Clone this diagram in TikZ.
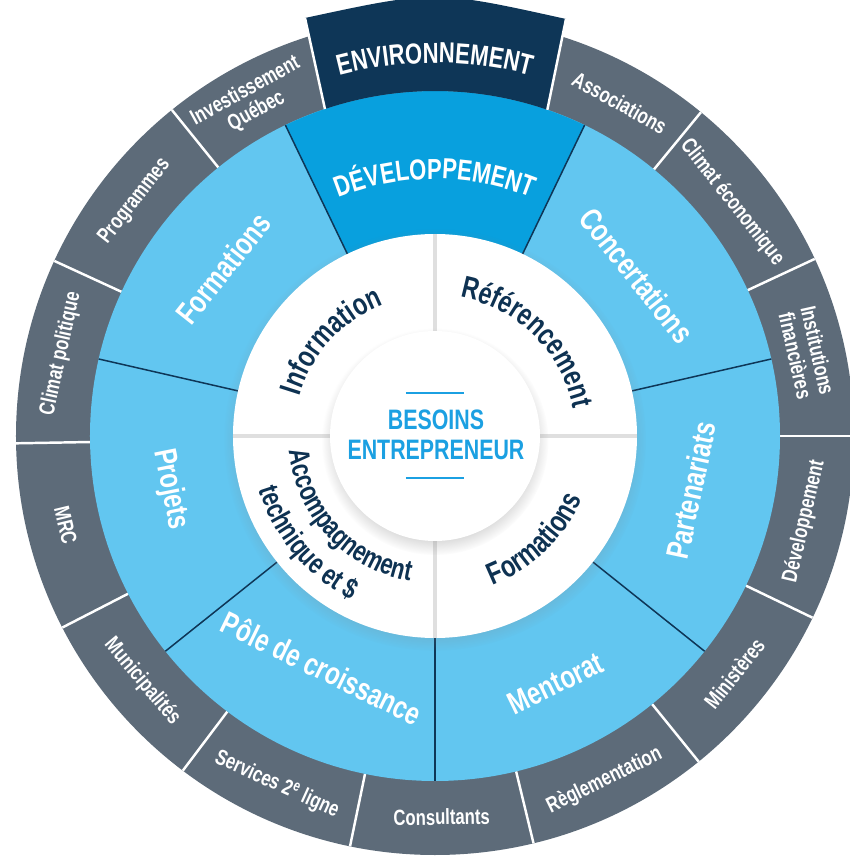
\documentclass[tikz,border=0pt]{standalone}
\usepackage{fontspec}
\setmainfont{Liberation Sans}[FakeStretch=0.76]
\usetikzlibrary{calc,decorations.text,shadows}

\definecolor{ringgray}{RGB}{93,107,121}
\definecolor{envnavy}{RGB}{14,54,87}
\definecolor{devblue}{RGB}{8,160,222}
\definecolor{ringblue}{RGB}{98,198,240}
\definecolor{textnavy}{RGB}{14,50,82}
\definecolor{coreblue}{RGB}{27,160,226}

\newcommand\tabfont{\fontsize{16.5}{18}\selectfont\bfseries\color{white}}
\newcommand\needfont{\fontsize{17.5}{19}\selectfont\bfseries\color{textnavy}}
\newcommand\needsmallfont{\fontsize{16.5}{18}\selectfont\bfseries\color{textnavy}}

\tikzset{
  graylbl/.style={text=white, font=\fontsize{12.5}{13}\selectfont\bfseries, align=center, inner sep=0pt},
  bluelbl/.style={text=white, font=\fontsize{18}{20}\selectfont\bfseries, inner sep=0pt},
  graysep/.style={white, line width=1.4pt},
  bluesep/.style={envnavy, line width=0.85pt},
  quadsep/.style={gray!25, line width=1.8pt},
  arclbl/.style={decorate, decoration={text along path, text align=center, text={#1}}},
}

\begin{document}
\begin{tikzpicture}[x=0.02cm,y=0.02cm]
  \useasboundingbox (-435,-423) rectangle (414,436);
  \coordinate (centre) at (0,0);

  % outer ring
  \fill[ringgray] (centre) circle (419);
  \foreach \a in {0,25,50.6,128.9,155.3,181,207.2,233,258.3,283.6,309,334.3}
    \draw[graysep] (\a:345) -- (\a:419);

  % middle ring
  \fill[ringblue] (centre) circle (345);
  \fill[devblue] (centre) -- (64.3:345) arc[start angle=64.3, end angle=115.7, radius=345] -- cycle;

  % environnement tab
  \coordinate (envBL) at (108.6:345);
  \coordinate (envBR) at (71:345);
  \coordinate (envTL) at (-130,418);
  \coordinate (envTR) at (131,417);
  \fill[envnavy] (envBL) -- (envTL) .. controls (0,446) .. (envTR) -- (envBR)
    arc[start angle=71, end angle=108.6, radius=345] -- cycle;
  \draw[graysep] (envBL) -- (envTL);
  \draw[graysep] (envBR) -- (envTR);

  \foreach \a in {12.9,64.3,115.7,167.1,218.6,270,321.4}
    \draw[bluesep] (\a:202) -- (\a:345);

  % inner ring
  \fill[white, circular drop shadow={shadow scale=1.045, shadow xshift=0pt, shadow yshift=-2pt, opacity=0.4}] (centre) circle (202);
  \foreach \a in {0,90,180,270}
    \draw[quadsep] (\a:105) -- (\a:202);

  % core
  \fill[white, circular drop shadow={shadow scale=1.08, shadow xshift=0pt, shadow yshift=-3pt, opacity=0.3}] (centre) circle (105);
  \node[text=coreblue, font=\fontsize{16}{17}\selectfont\bfseries, align=center, inner sep=0pt] (besoins) at (1,1) {BESOINS\\ENTREPRENEUR};
  \draw[coreblue, line width=1.4pt] (-29,43) -- (29,43);
  \draw[coreblue, line width=1.4pt] (-29,-42) -- (29,-42);

  % outer labels
  \path[arclbl={|\tabfont|ENVIRONNEMENT}] (110:373) arc[start angle=110, end angle=70, radius=373];
  \node[graylbl, rotate=-29]   (assoc)   at (61:381)     {Associations};
  \node[graylbl, rotate=-51.8] (climeco) at (38.2:378)   {Climat économique};
  \node[graylbl, rotate=-77.4] (instfin) at (12.6:381)   {Institutions\\financières};
  \node[graylbl, rotate=77]    (devgray) at (-13:379)    {Développement};
  \node[graylbl, rotate=51.6]  (minist)  at (-38.4:382)  {Ministères};
  \node[graylbl, rotate=26.2]  (regl)    at (-63.8:384)  {Règlementation};
  \node[graylbl, rotate=1]     (consult) at (-89:381)    {Consultants};
  \node[graylbl, rotate=-24.4] (servl)   at (-114.4:383) {Services 2\textsuperscript{e} ligne};
  \node[graylbl, rotate=-50]   (munic)   at (-140:382)   {Municipalités};
  \node[graylbl, rotate=-76.4] (mrc)     at (-166.4:380) {MRC};
  \node[graylbl, rotate=77.6]  (climpol) at (167.6:383)  {Climat politique};
  \node[graylbl, rotate=52]    (progr)   at (142:381)    {Programmes};
  \node[graylbl, rotate=28.8]  (invest)  at (118.8:382)  {Investissement\\Québec};

  % middle labels
  \path[arclbl={|\tabfont|DÉVELOPPEMENT}] (125:257) arc[start angle=125, end angle=55, radius=257];
  \node[bluelbl, rotate=-51.5] (concert) at (38.5:258)   {Concertations};
  \node[bluelbl, rotate=78]    (partn)   at (-12:262)    {Partenariats};
  \node[bluelbl, rotate=26]    (mentor)  at (-64:275)    {Mentorat};
  \node[bluelbl, rotate=-26]   (pole)    at (-116:258)   {Pôle de croissance};
  \node[bluelbl, rotate=-78.6] (projets) at (-168.6:270) {Projets};
  \node[bluelbl, rotate=51.6]  (formbl)  at (141.6:270)  {Formations};

  % inner labels
  \path[arclbl={|\needfont|Information}] (190:141) arc[start angle=190, end angle=85, radius=141];
  \path[arclbl={|\needfont|Référencement}] (100:141) arc[start angle=100, end angle=-9, radius=141];
  \path[arclbl={|\needfont|Formations}] (-100:160) arc[start angle=-100, end angle=8, radius=160];
  \path[arclbl={|\needsmallfont|Accompagnement}] (-190:147) arc[start angle=-190, end angle=-84, radius=147];
  \path[arclbl={|\needsmallfont|technique et {\$}}] (-193:184) arc[start angle=-193, end angle=-87, radius=184];
\end{tikzpicture}
\end{document}
